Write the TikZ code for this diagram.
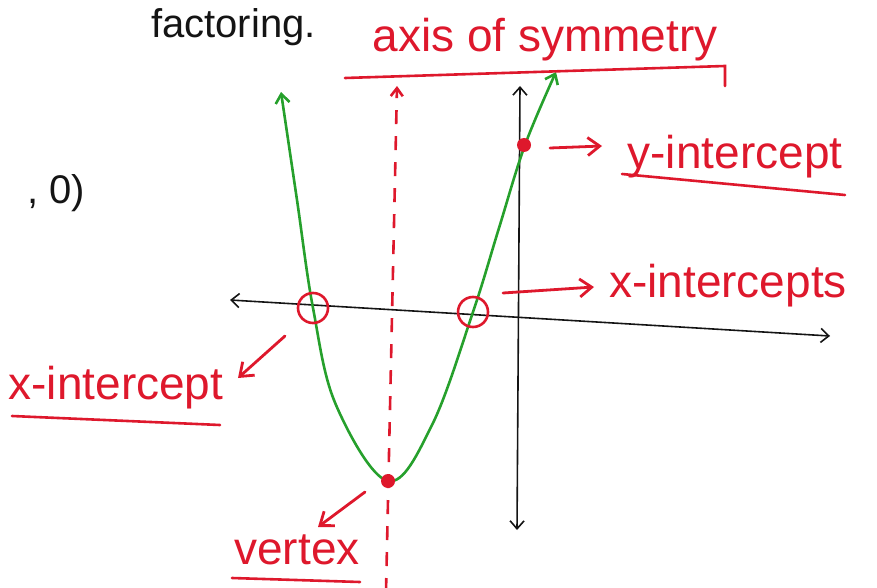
\documentclass[tikz,border=0pt]{standalone}
\usepackage{fontspec}
\setmainfont{Liberation Sans}
\usetikzlibrary{arrows.meta, positioning, calc}
\definecolor{penred}{RGB}{222,24,44}
\definecolor{pengreen}{RGB}{38,160,44}
\definecolor{penblack}{RGB}{20,20,20}
\tikzset{
    redlabel/.style={text=penred, font=\fontsize{46}{48}\selectfont, inner sep=1pt},
    blacklabel/.style={text=penblack, font=\fontsize{40}{42}\selectfont, inner sep=1pt},
    redarrow/.style={-{Straight Barb[length=12pt, width=18pt]}, penred, line width=2.8pt, line cap=round},
    redline/.style={penred, line width=2.6pt, line cap=round},
    axisarrow/.style={{Straight Barb[length=8pt, width=14pt]}-{Straight Barb[length=8pt, width=14pt]}, penblack, line width=1.6pt},
    curvearrow/.style={{Straight Barb[length=9pt, width=14pt]}-{Straight Barb[length=9pt, width=14pt]}, pengreen, line width=2.6pt},
    symline/.style={-{Straight Barb[length=8pt, width=12pt]}, penred, line width=2.6pt, dash pattern=on 14pt off 12pt},
    interring/.style={circle, draw=penred, line width=2.6pt, minimum size=30pt, inner sep=0pt},
    reddot/.style={circle, fill=penred, minimum size=14pt, inner sep=0pt}
}

\begin{document}
\begin{tikzpicture}[x=1pt, y=-1pt]
\useasboundingbox (0,0) rectangle (877,588);

% fragments of the page around the sketch
\node[blacklabel, anchor=base west] (factoring) at (150,38) {factoring.};
\node[blacklabel, anchor=base west] (point) at (26,204) {, 0)};

% axes
\coordinate (xleft) at (230,300);
\coordinate (xright) at (830,336);
\coordinate (ytop) at (520,86);
\coordinate (ybot) at (517,530);
\draw[axisarrow] (xleft) -- (xright);
\draw[axisarrow] (ybot) -- (ytop);

% axis of symmetry
\coordinate (symtop) at (397,86);
\coordinate (symbot) at (386,592);
\draw[symline] (symbot) -- (symtop);

% the parabola
\draw[curvearrow] plot[smooth, tension=0.6] coordinates {(281,92) (297,200) (313,308) (336,405) (388,481) (432,425) (473,312) (499,228) (525,145) (556,72)};

% marked points
\node[interring] (xinta) at (313,308) {};
\node[interring] (xintb) at (473,312) {};
\node[reddot] (vertex) at (388,481) {};
\node[reddot] (yint) at (524,145) {};

% labels
\node[redlabel] (symlabel) at (545,40) {axis of symmetry};
\node[redlabel] (yintlabel) at (735,157) {y-intercept};
\node[redlabel] (xintslabel) at (728,286) {x-intercepts};
\node[redlabel] (xintlabel) at (116,388) {x-intercept};
\node[redlabel] (vertexlabel) at (297,550) {vertex};

% underlines
\draw[redline] (345,78) -- (725,66) -- (725,86);
\draw[redline] (622,174) -- (845,195);
\draw[redline] (12,416) -- (220,425);
\draw[redline] (232,578) -- (360,582);

% pointers
\coordinate (yintend) at (602,146);
\coordinate (xintsend) at (594,287);
\coordinate (xintend) at (238,378);
\coordinate (vertexend) at (318,527);
\draw[redarrow] ($(yint)+(26,3)$) -- (yintend);
\draw[redarrow] ($(xintb)+(30,-19)$) -- (xintsend);
\draw[redarrow] ($(xinta)+(-28,28)$) -- (xintend);
\draw[redarrow] ($(vertex)+(-23,11)$) -- (vertexend);

\end{tikzpicture}
\end{document}
